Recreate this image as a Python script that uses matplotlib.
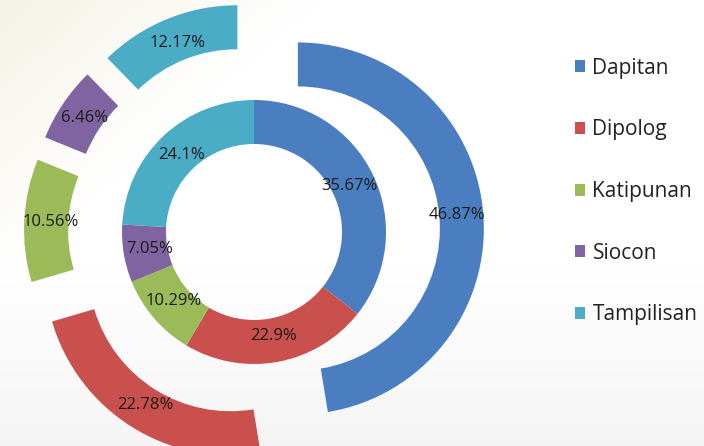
import numpy as np
import matplotlib
matplotlib.use("Agg")
import matplotlib.pyplot as plt

towns = ["Dapitan", "Dipolog", "Katipunan", "Siocon", "Tampilisan"]
inner_pct = [35.67, 22.9, 10.29, 7.05, 24.1]
outer_pct = [46.87, 22.78, 10.56, 6.46, 12.17]
colors = ["#4A7EC0", "#C9504C", "#9BBB59", "#8064A2", "#4BACC6"]

plt.rcParams["font.family"] = ["Open Sans", "DejaVu Sans"]

W, H = 704, 446
fig = plt.figure(figsize=(W / 100, H / 100), dpi=100)
ax = fig.add_axes([0, 0, 1, 1])

# soft background wash: cream top-left, light grey toward the bottom
yy, xx = np.mgrid[0:1:200j, 0:1:300j]
cream = np.clip(1 - (xx * 2.2 + yy * 1.6), 0, 1)
grey = np.clip((yy - 0.6) / 0.4, 0, 1) * 0.04
bg = np.dstack([1 - 0.04 * cream - grey,
                1 - 0.05 * cream - grey,
                1 - 0.10 * cream - grey])
ax.imshow(bg, extent=[0, W, 0, H], origin="upper", zorder=0, aspect="auto")

center = (254, H - 232)
r_in, r_out, width = 132, 186, 44


def fmt(values):
    it = iter(values)
    return lambda p: f"{next(it)}%"


wedges_in, _, texts_in = ax.pie(
    inner_pct, colors=colors, radius=r_in, center=center, startangle=90,
    counterclock=False, autopct=fmt(inner_pct), pctdistance=0.80,
    wedgeprops=dict(width=width, linewidth=0), frame=True,
    textprops=dict(fontsize=12, color="#1a1a1a"),
)
wedges_out, _, texts_out = ax.pie(
    outer_pct, colors=colors, radius=r_out, center=center, startangle=90,
    counterclock=False, autopct=fmt(outer_pct), pctdistance=0.86,
    explode=[44] * len(outer_pct),
    wedgeprops=dict(width=width, linewidth=0), frame=True,
    textprops=dict(fontsize=12, color="#1a1a1a"),
)
for w in wedges_in + wedges_out:
    w.set_zorder(2)
for t in texts_in + texts_out:
    t.set_zorder(3)

ax.set_xlim(0, W)
ax.set_ylim(0, H)
ax.set_aspect("equal")
ax.axis("off")

ax.legend(wedges_in, towns, loc="upper left", bbox_to_anchor=(556 / W, 1 - 39 / H),
          frameon=False, fontsize=15, labelspacing=1.95, handlelength=0.5,
          handleheight=0.5, handletextpad=0.35, labelcolor="#222222")

fig.savefig("out.png", dpi=100)
